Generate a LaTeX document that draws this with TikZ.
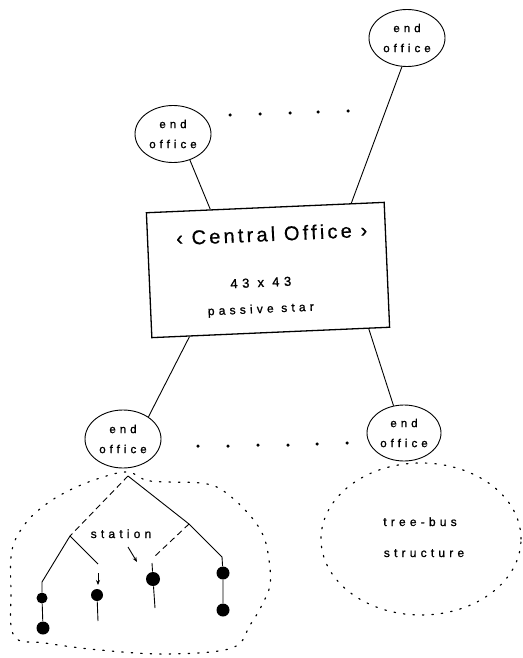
\documentclass[tikz,border=0pt]{standalone}
\usepackage{fontspec}
\setmainfont{Liberation Sans}
\newfontfamily\cofont[LetterSpace=16,FakeBold=0.6]{Liberation Sans}
\newfontfamily\smfont[LetterSpace=35,FakeBold=1.2]{Liberation Sans}
\usetikzlibrary{shapes.geometric,calc,arrows.meta}
\begin{document}
\begin{tikzpicture}[x=1pt,y=-1pt,line width=0.9pt,
  eo/.style={draw,ellipse,inner sep=0pt,minimum width=76pt,minimum height=57pt,
    align=center,font=\smfont\fontsize{11.5}{20}\selectfont},
  smtext/.style={inner sep=0pt,anchor=base,font=\smfont\fontsize{12}{14}\selectfont},
  sdot/.style={circle,fill,inner sep=0pt,minimum size=12pt},
  pdot/.style={circle,fill,inner sep=0pt,minimum size=3.5pt},
  dashln/.style={dash pattern=on 6pt off 4pt},
  dotreg/.style={line width=1.2pt,dash pattern=on 1.5pt off 8pt,line cap=round},
  stip/.style={-{Stealth[length=5pt,width=4pt]}}]
\useasboundingbox (0,0) rectangle (522,658);

% end offices
\node[eo] (eTR) at (407,38) {end\\office};
\node[eo] (eTL) at (173,134) {end\\office};
\node[eo,minimum height=58pt] (eBL) at (123,439) {end\\office};
\node[eo,minimum width=74pt,minimum height=56pt] (eBR) at (404,433) {end\\office};

% central office
\node[draw,line width=1.3pt,rotate=2.5,minimum width=238pt,minimum height=125pt,inner sep=0pt] (co) at (268,270) {};
\node[rotate=2.5,anchor=base,inner sep=0pt,font=\cofont\fontsize{20}{22}\selectfont] (cot) at (272,241) {‹ Central Office ›};
\node[rotate=2.5,smtext,font=\smfont\fontsize{13}{15}\selectfont] (cn) at (261,287) {43 x 43};
\node[rotate=2.5,smtext] (cp) at (261,313) {passive star};

% connectors
\draw (eTL.-57) -- ($(co.north west)!0.27!(co.north east)$);
\draw (eTR.-100) -- ($(co.north west)!0.86!(co.north east)$);
\draw ($(co.south west)!0.16!(co.south east)$) -- (eBL.41);
\draw ($(co.south west)!0.91!(co.south east)$) -- (eBR.111);

% dots between offices
\foreach \x/\y in {230/115,260/114,290/113,318/112,348/111}
  \node[pdot] at (\x,\y) {};
\foreach \x/\y in {198/446,228/446,258/445,288/445,317/444,347/443}
  \node[pdot] at (\x,\y) {};

% left tree-bus region
\draw[dotreg] plot[smooth cycle,tension=0.6] coordinates {
  (128,472) (150,481) (200,483) (222,490) (247,512) (263,535) (269,560)
  (270,585) (262,605) (250,625) (232,648) (167,654) (100,650) (45,643)
  (14,636) (11,590) (12,550) (25,524) (45,505) (70,490) (100,478)};

% tree
\coordinate (r) at (128,476);
\coordinate (nL) at (70,536);
\coordinate (nR) at (189,524);
\coordinate (l1) at (42,582);
\coordinate (l2) at (98,564);
\coordinate (l3) at (154,557);
\coordinate (l4) at (222,557);
\draw[dashln] (r) -- (nL);
\draw (r) -- (nR);
\draw (nL) -- (l1);
\draw (nL) -- (l2);
\draw[dashln] (nR) -- (l3);
\draw (nR) -- (l4);

\node[sdot,minimum size=11pt] (d1a) at (42,598) {};
\node[sdot,minimum size=13pt] (d1b) at (43,628) {};
\node[sdot] (d2) at (97,595) {};
\node[sdot,minimum size=14pt] (d3) at (153,579) {};
\node[sdot,minimum size=13pt] (d4a) at (223,573) {};
\node[sdot,minimum size=13pt] (d4b) at (223,610) {};
\coordinate (e2) at (98,621);
\coordinate (e3) at (155,608);
\coordinate (a2s) at (98,573);
\coordinate (a2e) at (98,585);
\draw (l1) -- (d1a) -- (d1b);
\draw[stip] (a2s) -- (a2e);
\draw (d2) -- (e2);
\draw (152,563) -- (d3) -- (e3);
\draw (l4) -- (d4a) -- (d4b);

\node[smtext] (st) at (121,538) {station};
\coordinate (sa1) at (128,547);
\coordinate (sa2) at (137,562);
\draw[stip] (sa1) -- (sa2);

% right tree-bus region
\draw[dotreg] (421,539) ellipse [x radius=100pt,y radius=76pt];
\node[smtext] (tb) at (420,526) {tree-bus};
\node[smtext] (ts) at (424,557) {structure};
\end{tikzpicture}
\end{document}
